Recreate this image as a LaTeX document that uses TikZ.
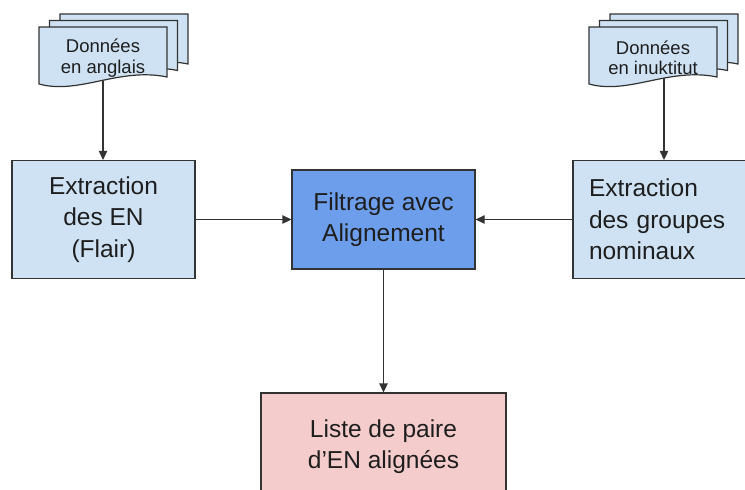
\documentclass[tikz,border=0pt]{standalone}
\usepackage{fontspec}
\setmainfont{Liberation Sans}
\usetikzlibrary{arrows.meta}

\definecolor{lightblue}{HTML}{CFE2F3}
\definecolor{midblue}{HTML}{6D9EEB}
\definecolor{lightred}{HTML}{F4CCCC}
\definecolor{edge}{HTML}{333333}
\definecolor{ink}{HTML}{1E1E1E}

\tikzset{
  box/.style={draw=edge, line width=1.3pt, inner sep=0pt, text=ink,
    font=\fontsize{24.5}{31.5}\selectfont, align=center},
  sheet/.style={draw=edge, line width=1.2pt, fill=lightblue},
  doctext/.style={text=ink, font=\fontsize{18.5}{20.5}\selectfont, align=center, inner sep=0pt},
  link/.style={draw=edge, line width=1.3pt, -{Triangle[length=9pt,width=8.5pt]}},
}

% stack of three document sheets; #1,#2 = top-left corner of the front sheet
\newcommand\pagestack[2]{%
  \foreach \dx/\dy in {21/-13, 10.5/-6.5, 0/0}{
    \path[sheet] ({#1+\dx},{#2+\dy}) -- ({#1+\dx+128},{#2+\dy})
      -- ({#1+\dx+128},{#2+\dy+50})
      .. controls ({#1+\dx+80},{#2+\dy+40}) and ({#1+\dx+40},{#2+\dy+68})
      .. ({#1+\dx},{#2+\dy+57}) -- cycle;
  }}

\begin{document}
\begin{tikzpicture}[x=1pt, y=-1pt]
  \path[use as bounding box, fill=white] (0,0) rectangle (745,490);
  \clip (0,0) rectangle (745,490);

  % input documents
  \pagestack{39}{27}
  \pagestack{589}{27}
  \node[doctext] (tEN) at (103,58) {Données\\en anglais};
  \node[doctext] (tIU) at (653,58) {Données\\en inuktitut};
  \coordinate (docEN) at (103,81);
  \coordinate (docIU) at (664,78);

  % processing boxes
  \node[box, fill=lightblue, minimum width=183pt, minimum height=118pt]
    (nerEN) at (103.5,219.5) {Extraction\\des EN\\(Flair)};
  \node[box, fill=midblue, minimum width=183pt, minimum height=99pt]
    (filter) at (383.5,219.5) {Filtrage avec\\Alignement};
  \node[box, fill=lightblue, minimum width=182pt, minimum height=118pt,
        text width=150pt, align=left, inner xsep=16pt]
    (npIU) at (664,219.5) {Extraction\\des groupes\\nominaux};
  \node[box, fill=lightred, minimum width=245pt, minimum height=107pt]
    (pairs) at (383.5,446.5) {Liste de paire\\d’EN alignées};

  % connectors
  \draw[link] (docEN) -- (docEN |- nerEN.north);
  \draw[link] (docIU) -- (docIU |- npIU.north);
  \draw[link] (nerEN.east) -- (filter.west);
  \draw[link] (npIU.west) -- (filter.east);
  \draw[link] (filter.south) -- (pairs.north);
\end{tikzpicture}
\end{document}
